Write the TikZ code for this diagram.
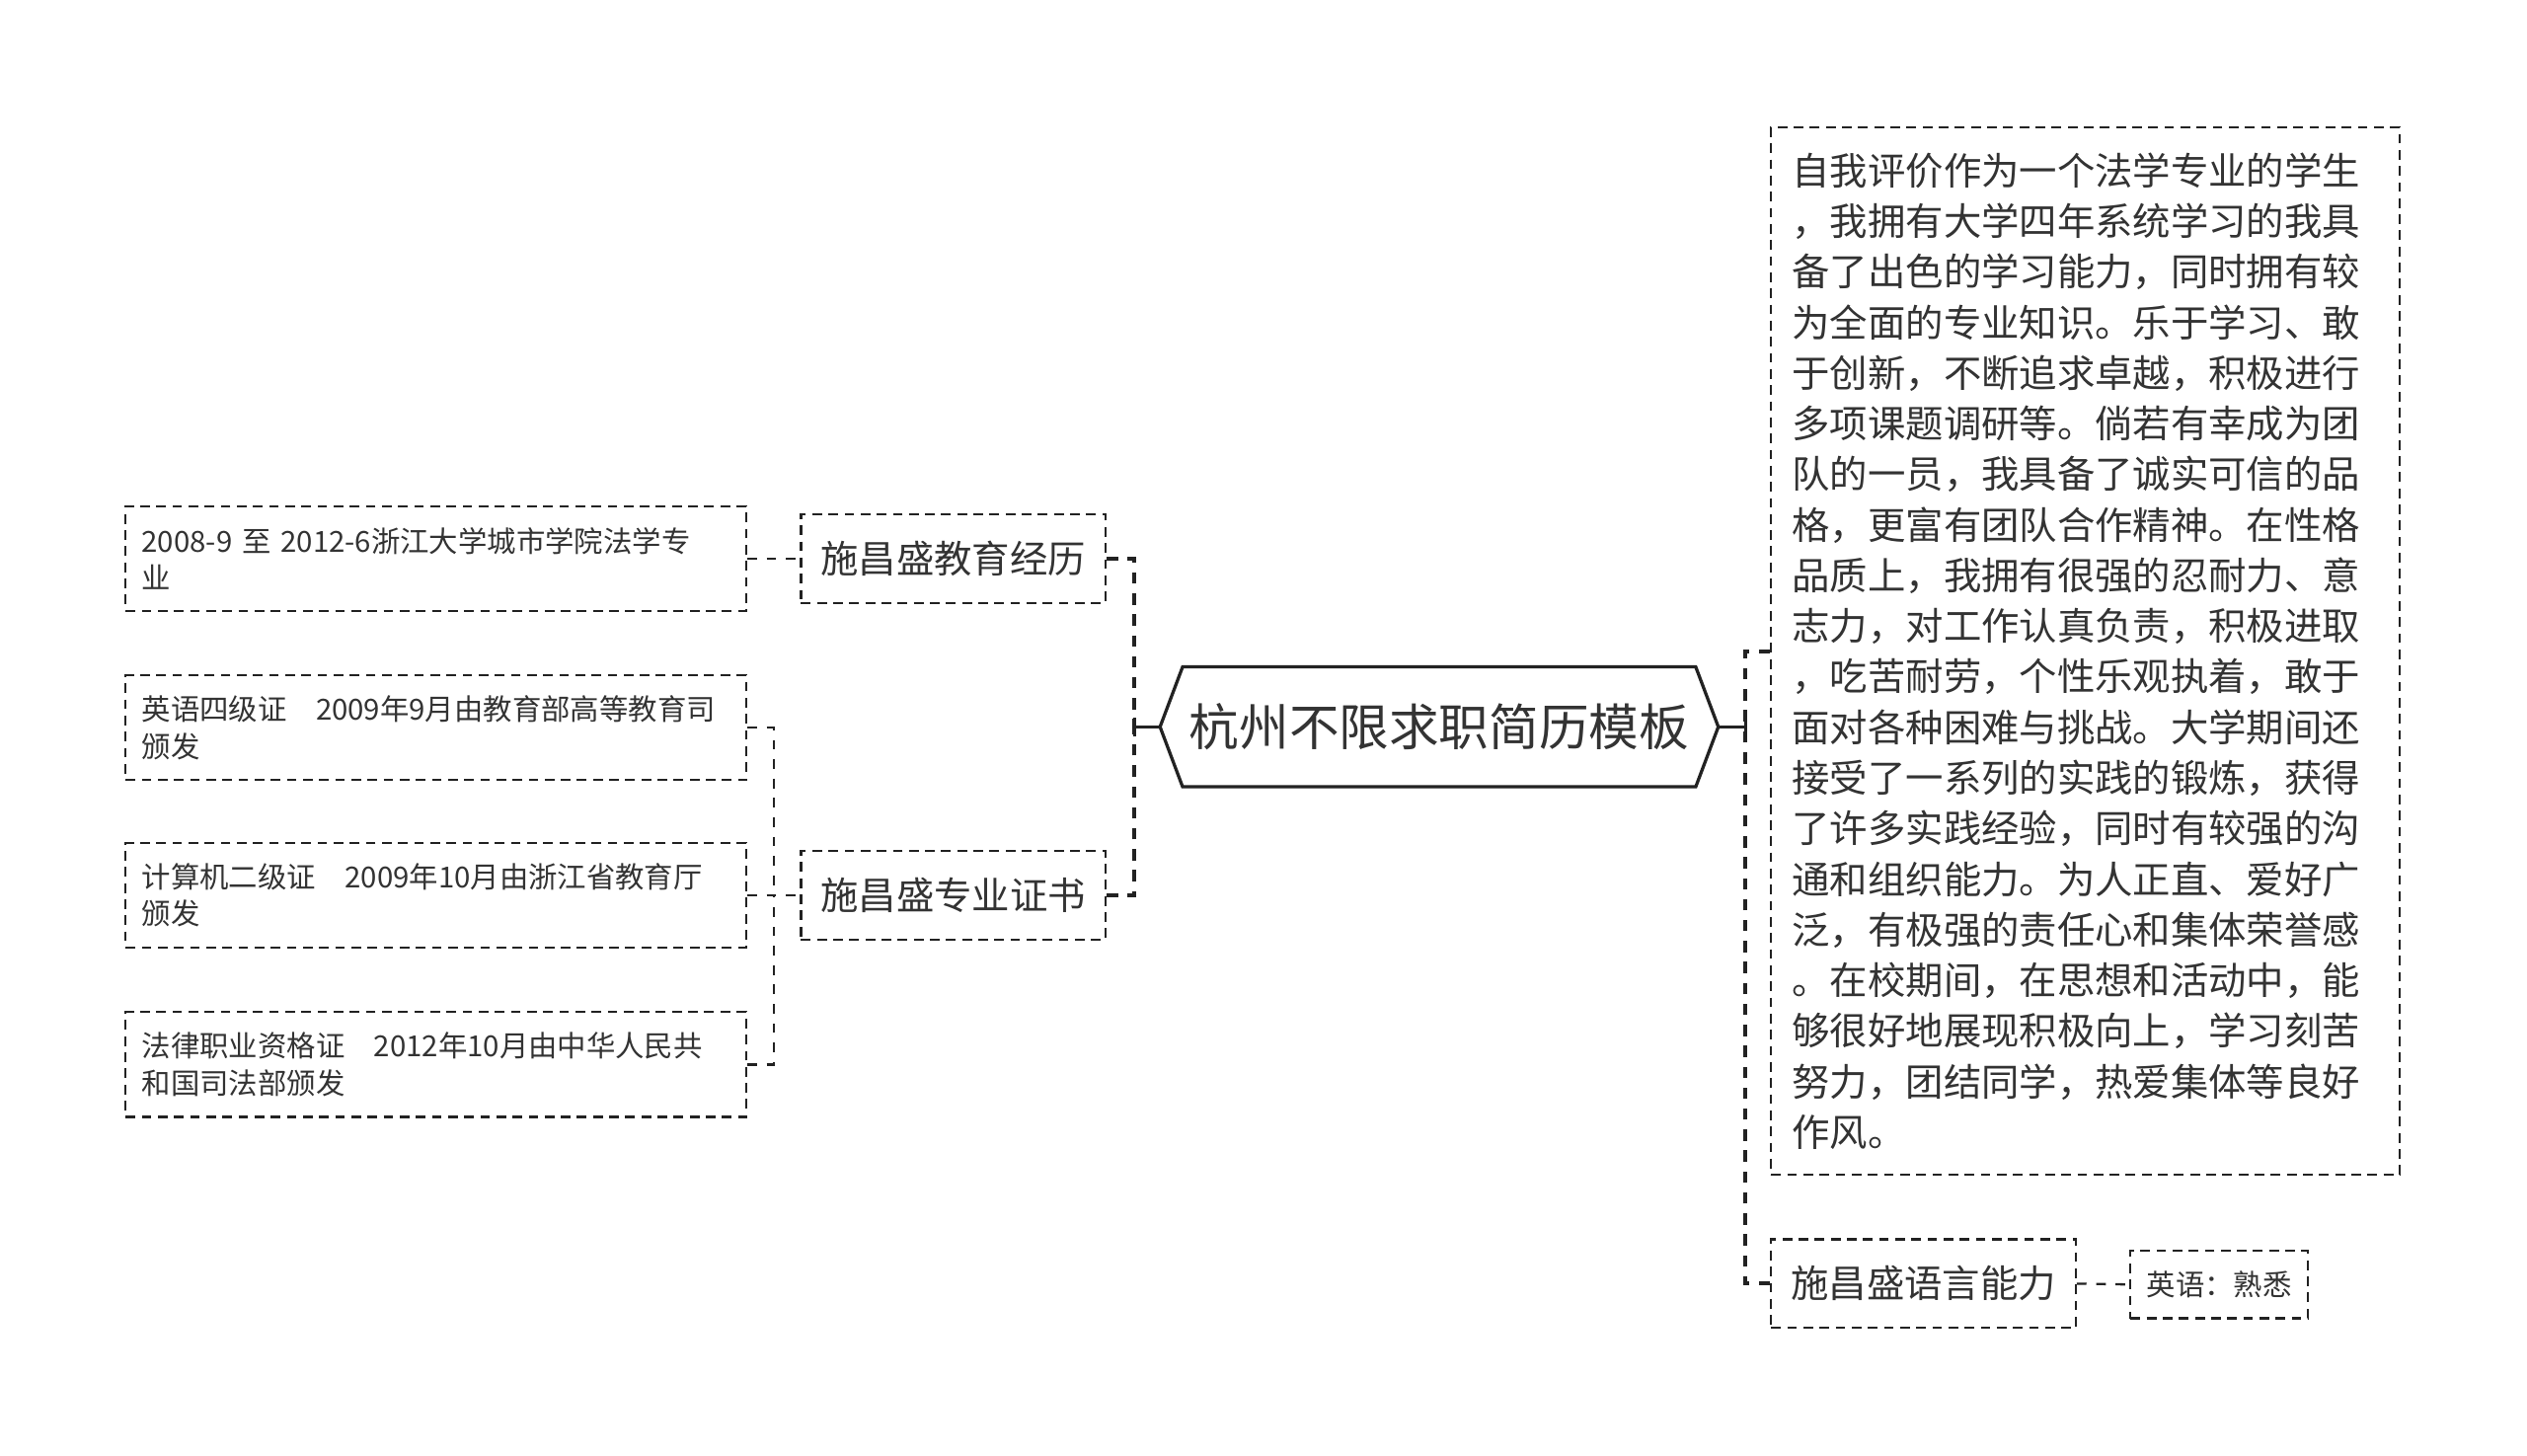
\documentclass[tikz,border=0pt]{standalone}
\usepackage{fontspec}
\newfontfamily\cjk{Noto Sans CJK SC}
\usetikzlibrary{calc}
\definecolor{ink}{HTML}{333333}
\definecolor{lineink}{HTML}{222222}
\begin{document}
\begin{tikzpicture}[x=1pt,y=-1pt,
  box/.style={draw=lineink, line width=1.3pt, dash pattern=on 6pt off 4pt, inner sep=0pt, text=ink},
  leaf/.style={box, minimum width=385pt, minimum height=65pt, text width=365pt, align=left, font=\cjk\fontsize{18}{23}\selectfont},
  midbox/.style={box, minimum width=189pt, minimum height=55pt, align=center, font=\cjk\fontsize{23.5}{28}\selectfont},
  evalbox/.style={box, minimum width=390pt, minimum height=650pt, text width=364pt, align=left, font=\cjk\fontsize{23.5}{31.4}\selectfont},
  smallbox/.style={box, minimum width=110pt, minimum height=42pt, align=center, font=\cjk\fontsize{18}{22}\selectfont},
  rootnode/.style={inner sep=0pt, minimum width=318pt, minimum height=74pt, text=ink, font=\cjk\fontsize{31}{36}\selectfont},
  rootline/.style={draw=lineink, line width=2pt, line join=miter},
  conn/.style={draw=lineink, line width=2.4pt, dash pattern=on 7pt off 6pt},
  subconn/.style={draw=lineink, line width=1.4pt, dash pattern=on 6pt off 6pt}
]
\useasboundingbox[fill=white] (0,0) rectangle (1568,903);

% root
\node[rootnode] (root) at (893,451) {杭州不限求职简历模板};
\coordinate (rootL) at ([xshift=-14pt]root.west);
\coordinate (rootR) at ([xshift=14pt]root.east);
\draw[rootline] (rootL) -- (root.north west) -- (root.north east) -- (rootR) -- (root.south east) -- (root.south west) -- cycle;

% junctions
\coordinate (lj) at (704,451);
\coordinate (rj) at (1083,451);
\draw[rootline] (rootL) -- (lj);
\draw[rootline] ([yshift=-6pt]lj) -- ([yshift=6pt]lj);
\draw[rootline] (rootR) -- (rj);
\draw[rootline] ([yshift=-6pt]rj) -- ([yshift=6pt]rj);

% level 2 left
\node[midbox] (edu) at (591.5,346.5) {施昌盛教育经历};
\node[midbox] (cert) at (591.5,555.5) {施昌盛专业证书};

% level 2 right
\node[evalbox] (eval) at (1294,404) {自我评价作为一个法学专业的学生\\
，我拥有大学四年系统学习的我具\\
备了出色的学习能力，同时拥有较\\
为全面的专业知识。乐于学习、敢\\
于创新，不断追求卓越，积极进行\\
多项课题调研等。倘若有幸成为团\\
队的一员，我具备了诚实可信的品\\
格，更富有团队合作精神。在性格\\
品质上，我拥有很强的忍耐力、意\\
志力，对工作认真负责，积极进取\\
，吃苦耐劳，个性乐观执着，敢于\\
面对各种困难与挑战。大学期间还\\
接受了一系列的实践的锻炼，获得\\
了许多实践经验，同时有较强的沟\\
通和组织能力。为人正直、爱好广\\
泛，有极强的责任心和集体荣誉感\\
。在校期间，在思想和活动中，能\\
够很好地展现积极向上，学习刻苦\\
努力，团结同学，热爱集体等良好\\
作风。};
\node[midbox] (lang) at (1193.5,796.5) {施昌盛语言能力};
\node[smallbox] (eng) at (1377,797) {英语：熟悉};

% leaves
\node[leaf] (l1) at (270.5,346.5) {2008-9 至 2012-6浙江大学城市学院法学专\\业};
\node[leaf] (l2) at (270.5,451.5) {英语四级证\quad 2009年9月由教育部高等教育司\\颁发};
\node[leaf] (l3) at (270.5,555.5) {计算机二级证\quad 2009年10月由浙江省教育厅\\颁发};
\node[leaf] (l4) at (270.5,660.5) {法律职业资格证\quad 2012年10月由中华人民共\\和国司法部颁发};

% main connectors
\draw[conn] (edu.east) -| (lj);
\draw[conn] (cert.east) -| (lj);
\draw[conn] (eval.west) -| (rj);
\draw[conn] (lang.west) -| (rj);

% sub connectors
\coordinate (cj) at (480,555.5);
\draw[subconn] (l1.east) -- (edu.west);
\draw[subconn] (l2.east) -| (cj);
\draw[subconn] (l4.east) -| (cj);
\draw[subconn] (l3.east) -- (cert.west);
\draw[subconn] (lang.east) -- (eng.west);
\end{tikzpicture}
\end{document}
